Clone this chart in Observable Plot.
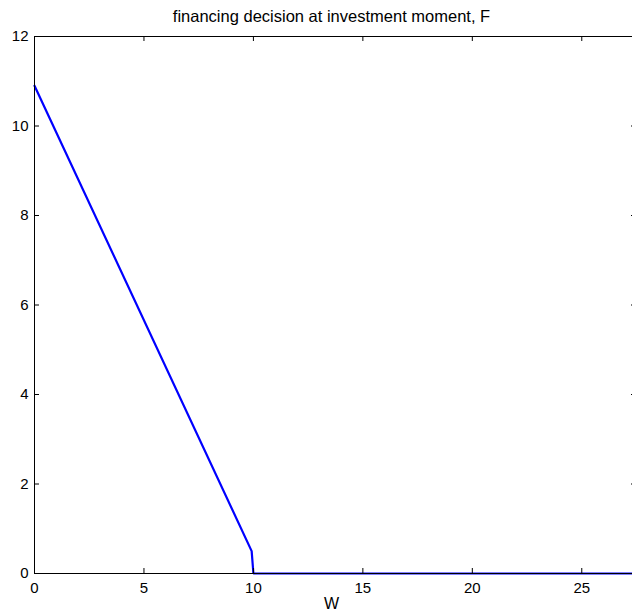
<!DOCTYPE html>
<html>
<head>
<meta charset="utf-8">
<script src="https://cdn.jsdelivr.net/npm/d3@7"></script>
<script src="https://cdn.jsdelivr.net/npm/@observablehq/plot@0.6"></script>
<style>
  html, body { margin: 0; padding: 0; background: #fff; overflow: hidden; }
  #chart { width: 632px; height: 616px; overflow: hidden; }
  #chart svg { max-width: none !important; }
</style>
</head>
<body>
<div id="chart"></div>
<script>
// Financing decision F as a function of wealth W
const wealth = [0, 9.92, 10.0, 27.5];
const financing = [10.9, 0.5, 0, 0];

const xTicks = [0, 5, 10, 15, 20, 25];
const yTicks = [0, 2, 4, 6, 8, 10, 12];

const titleText = "financing decision at investment moment, F";
const xLabel = "W";

const points = wealth.map((w, i) => ({W: w, F: financing[i]}));

const width = 640, height = 616;
const mTop = 36, mBottom = 43, mLeft = 34, mRight = 4;
const frameW = width - mLeft - mRight;
const frameH = height - mTop - mBottom;
const tick = 5;

const plot = Plot.plot({
  width, height,
  marginTop: mTop, marginBottom: mBottom, marginLeft: mLeft, marginRight: mRight,
  style: {fontFamily: "'Liberation Sans', Arial, sans-serif", fontSize: "15px", color: "#000", background: "#fff", maxWidth: "none"},
  x: {domain: [0, 27.5], label: null},
  y: {domain: [0, 12], label: null},
  marks: [
    Plot.line(points, {x: "W", y: "F", stroke: "#0000ff", strokeWidth: 2.2, strokeLinejoin: "miter"}),
    Plot.frame({stroke: "#000", strokeWidth: 1}),
    // inward ticks on all four sides
    Plot.tickX(xTicks, {x: d => d, insetTop: frameH - tick, stroke: "#000"}),
    Plot.tickX(xTicks, {x: d => d, insetBottom: frameH - tick, stroke: "#000"}),
    Plot.tickY(yTicks, {y: d => d, insetRight: frameW - tick, stroke: "#000"}),
    Plot.tickY(yTicks, {y: d => d, insetLeft: frameW - tick, stroke: "#000"}),
    Plot.axisX(xTicks, {anchor: "bottom", tickSize: 0, tickPadding: 9, label: null, fontSize: 15}),
    Plot.axisY(yTicks, {anchor: "left", tickSize: 0, tickPadding: 6, label: null, fontSize: 15}),
    Plot.text([titleText], {frameAnchor: "top", dx: -4, dy: -26, text: d => d, fontSize: 16.5, fill: "#000"}),
    Plot.text([xLabel], {frameAnchor: "bottom", dx: -4, dy: 35, text: d => d, fontSize: 16, fill: "#000"})
  ]
});

plot.style.maxWidth = "none";
document.getElementById("chart").append(plot);
</script>
</body>
</html>
